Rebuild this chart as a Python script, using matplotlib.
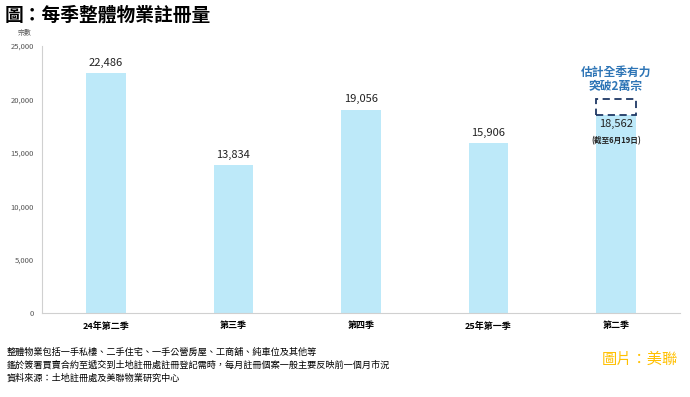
import matplotlib.pyplot as plt
from matplotlib.patches import Rectangle

plt.rcParams['font.family'] = ['Noto Sans CJK TC', 'DejaVu Sans']

# data
quarters = ['24年第二季', '第三季', '第四季', '25年第一季', '第二季']
cases = [22486, 13834, 19056, 15906, 18562]
estimate = 20000
yticks = [0, 5000, 10000, 15000, 20000, 25000]

notes = ['整體物業包括一手私樓、二手住宅、一手公營房屋、工商舖、純車位及其他等',
         '鑑於簽署買賣合約至遞交到土地註冊處註冊登記需時，每月註冊個案一般主要反映前一個月市況',
         '資料來源：土地註冊處及美聯物業研究中心']

fig = plt.figure(figsize=(6.9, 3.97), dpi=100)
ax = fig.add_axes([0.061, 0.2116, 0.924, 0.6724])

x = range(len(quarters))
w = 0.31
ax.bar(x, cases, width=w, color='#BDE9F9')

last = len(cases) - 1
for i, v in enumerate(cases[:last]):
    ax.text(i, v + 500, f'{v:,}', ha='center', va='bottom', fontsize=8, color='#222222')

# last quarter: value sits inside the bar, below the dashed estimate box
ax.add_patch(Rectangle((last - w / 2, cases[last]), w, estimate - cases[last],
                       fill=False, edgecolor='#1F3864', linestyle=(0, (4, 2.5)), linewidth=1.3))
ax.text(last, cases[last] - 900, f'{cases[last]:,}', ha='center', va='center',
        fontsize=8, color='#222222')
ax.text(last, cases[last] - 2450, '(截至6月19日)', ha='center', va='center',
        fontsize=5.5, fontweight='bold', color='#222222')
ax.text(last, 21900, '估計全季有力\n突破2萬宗', ha='center', va='center', fontsize=8.5,
        fontweight='bold', color='#2E75B6', linespacing=1.15)

ax.set_xlim(-0.5, len(quarters) - 0.5)
ax.set_ylim(0, 25000)
ax.set_yticks(yticks)
ax.set_yticklabels([f'{t:,}' for t in yticks], fontsize=5.5, color='#555555')
ax.set_xticks(list(x))
ax.set_xticklabels(quarters, fontsize=6.5, fontweight='bold')
ax.tick_params(axis='both', length=0, pad=6)
for s in ['top', 'right']:
    ax.spines[s].set_visible(False)
for s in ['left', 'bottom']:
    ax.spines[s].set_color('#D0D0D0')

fig.text(0.007, 0.962, '圖：每季整體物業註冊量', fontsize=13.5, fontweight='bold', va='center')
fig.text(0.035, 0.917, '宗數', fontsize=5, color='#555555', va='center', ha='center')

for k, line in enumerate(notes):
    fig.text(0.01, 0.113 - k * 0.033, line, fontsize=6.6, va='center')
fig.text(0.983, 0.095, '圖片：美聯', fontsize=11, color='#FFC000', ha='right', va='center')

fig.savefig('out.png')
